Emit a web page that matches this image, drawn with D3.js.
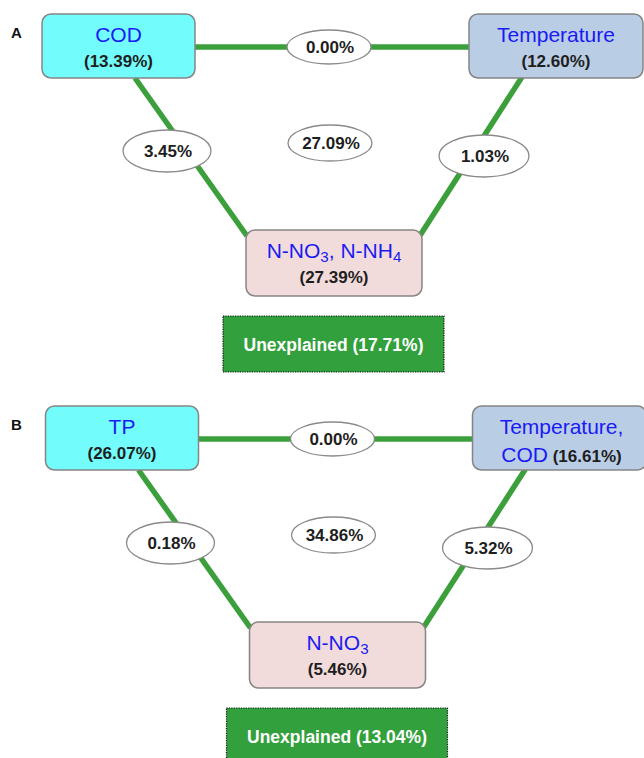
<!DOCTYPE html>
<html>
<head>
<meta charset="utf-8">
<script src="https://cdn.jsdelivr.net/npm/d3@7"></script>
<style>
  html, body { margin: 0; padding: 0; background: #fff; }
  svg { display: block; }
  text { font-family: "Liberation Sans", Arial, Helvetica, sans-serif; }
</style>
</head>
<body>
<svg id="chart" width="644" height="758"></svg>
<script>
// ---------------- DATA ----------------
const panelLabels = ["A", "B"];
const leftNames   = [["COD"], ["TP"]];
const leftValues  = [13.39, 26.07];
const rightNames  = [["Temperature"], ["Temperature,", "COD"]];
const rightValues = [12.60, 16.61];
const bottomNames = [["N-NO_3, N-NH_4"], ["N-NO_3"]];
const bottomValues = [27.39, 5.46];
const sharedLeftRight   = [0.00, 0.00];
const sharedLeftBottom  = [3.45, 0.18];
const sharedRightBottom = [1.03, 5.32];
const sharedAll         = [27.09, 34.86];
const unexplained       = [17.71, 13.04];

// ---------------- LAYOUT ----------------
const svg = d3.select("#chart");
const fmt = d3.format(".2f");
const pct = v => fmt(v) + "%";

const panelY = d3.scaleOrdinal().domain(panelLabels).range([0, 392]);
const panelX = d3.scaleOrdinal().domain(panelLabels).range([0, 3.5]);

const GREEN_LINE = "#3b9f3b";
const GREEN_BOX = "#32a03c";
const BLUE = "#1a1af5";
const DARK = "#1e1e1e";

const geom = {
  left:   { x: 42,  y: 14,  w: 153, h: 64, fill: "#72fcfc" },
  right:  { x: 469, y: 14,  w: 174, h: 64, fill: "#b9cde5" },
  bottom: { x: 246, y: 230, w: 176, h: 66, fill: "#f2dcdb" },
  eLR:  { cx: 329, cy: 47,  rx: 42, ry: 17 },
  eAll: { cx: 330, cy: 143, rx: 42, ry: 18 },
  eLB:  { cx: 167, cy: 151, rx: 44, ry: 21 },
  eRB:  { cx: 484, cy: 156, rx: 45, ry: 21 },
  unexp: { x: 223, y: 316, w: 221, h: 56 },
  lineTop: [[195, 47], [469, 47]],
  lineL: [[135, 78], [247, 236]],
  lineR: [[522, 77], [419, 237]]
};

function richText(sel, str, size, color, weight) {
  const parts = str.split(/(_\d)/).filter(s => s.length);
  let lowered = false;
  parts.forEach(p => {
    if (p.startsWith("_")) {
      sel.append("tspan").text(p.slice(1))
        .attr("font-size", size * 0.72).attr("dy", 4).attr("fill", color).attr("font-weight", weight);
      lowered = true;
    } else {
      const t = sel.append("tspan").text(p).attr("font-size", size).attr("fill", color).attr("font-weight", weight);
      if (lowered) { t.attr("dy", -4); lowered = false; }
    }
  });
}

function drawNode(g, box, nameLines, value) {
  g.append("rect")
    .attr("x", box.x).attr("y", box.y).attr("width", box.w).attr("height", box.h)
    .attr("rx", 9).attr("ry", 9)
    .attr("fill", box.fill).attr("stroke", "#858585").attr("stroke-width", 1.5);
  const cx = box.x + box.w / 2;
  const base1 = box.y + 28;
  const base2 = box.y + 54;
  if (nameLines.length === 1) {
    const t1 = g.append("text").attr("x", cx).attr("y", base1).attr("text-anchor", "middle")
      .attr("font-size", 21);
    richText(t1, nameLines[0], 21, BLUE, "normal");
    g.append("text").attr("x", cx).attr("y", base2 - 1).attr("text-anchor", "middle")
      .attr("font-size", 17).attr("font-weight", "bold").attr("fill", DARK).text("(" + pct(value) + ")");
  } else {
    const t1 = g.append("text").attr("x", cx + 2).attr("y", base1).attr("text-anchor", "middle")
      .attr("font-size", 21);
    richText(t1, nameLines[0], 21, BLUE, "normal");
    const t2 = g.append("text").attr("x", cx + 2).attr("y", base2 + 2).attr("text-anchor", "middle")
      .attr("font-size", 21);
    richText(t2, nameLines[1], 21, BLUE, "normal");
    t2.append("tspan").text(" (" + pct(value) + ")")
      .attr("font-size", 17).attr("font-weight", "bold").attr("fill", DARK);
  }
}

function drawEllipse(g, e, value) {
  g.append("ellipse").attr("cx", e.cx).attr("cy", e.cy).attr("rx", e.rx).attr("ry", e.ry)
    .attr("fill", "#fff").attr("stroke", "#8a8a8a").attr("stroke-width", 1.3);
  g.append("text").attr("x", e.cx + 1).attr("y", e.cy + 6).attr("text-anchor", "middle")
    .attr("font-size", 17).attr("font-weight", "bold").attr("fill", DARK).text(pct(value));
}

const line = d3.line();

panelLabels.forEach((p, i) => {
  const g = svg.append("g").attr("transform", `translate(${panelX(p)},${panelY(p)})`);

  svg.append("text").attr("x", 11).attr("y", 38 + panelY(p))
    .attr("font-size", 15).attr("font-weight", "bold").attr("fill", "#111").text(p);

  [geom.lineTop, geom.lineL, geom.lineR].forEach(pts => {
    g.append("path").attr("d", line(pts)).attr("fill", "none")
      .attr("stroke", GREEN_LINE).attr("stroke-width", 5.5);
  });

  drawNode(g, geom.left, leftNames[i], leftValues[i]);
  drawNode(g, geom.right, rightNames[i], rightValues[i]);
  drawNode(g, geom.bottom, bottomNames[i], bottomValues[i]);

  drawEllipse(g, geom.eLR, sharedLeftRight[i]);
  drawEllipse(g, geom.eAll, sharedAll[i]);
  drawEllipse(g, geom.eLB, sharedLeftBottom[i]);
  drawEllipse(g, geom.eRB, sharedRightBottom[i]);

  const u = geom.unexp;
  g.append("rect").attr("x", u.x).attr("y", u.y).attr("width", u.w).attr("height", u.h)
    .attr("fill", GREEN_BOX).attr("stroke", "#111").attr("stroke-width", 1.2)
    .attr("stroke-dasharray", "1.2,1.2");
  g.append("text").attr("x", u.x + u.w / 2).attr("y", u.y + u.h / 2 + 6.5)
    .attr("text-anchor", "middle").attr("font-size", 17.5).attr("font-weight", "bold")
    .attr("fill", "#fff").text("Unexplained (" + pct(unexplained[i]) + ")");
});
</script>
</body>
</html>
